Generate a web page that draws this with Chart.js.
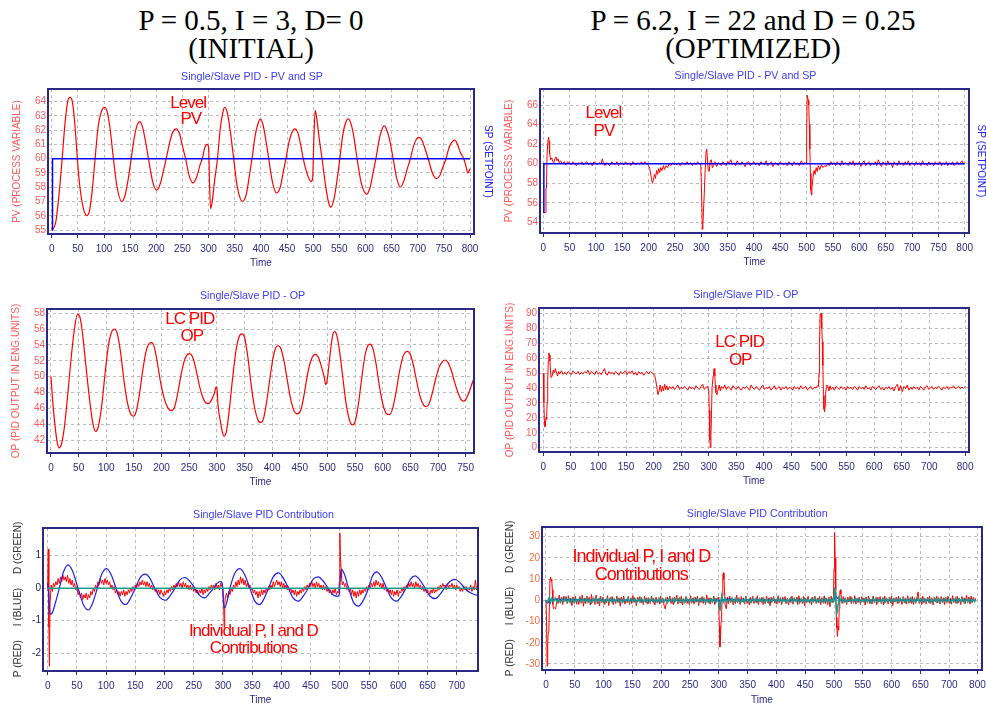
<!DOCTYPE html>
<html>
<head>
<meta charset="utf-8">
<script src="https://cdn.jsdelivr.net/npm/chart.js@4"></script>
<style>
  html, body { margin: 0; padding: 0; background: #fff; overflow: hidden; }
  body { width: 986px; height: 705px; position: relative; }
  .head { position: absolute; top: 6px; width: 500px; text-align: center; color: #000;
          font-family: "Liberation Serif", "Times New Roman", serif; font-size: 29px; line-height: 28px; }
  canvas { position: absolute; }
</style>
</head>
<body>
<div class="head" style="left:1px">P = 0.5, I = 3, D= 0<br>(INITIAL)</div>
<div class="head" style="left:503px">P = 6.2, I = 22 and D = 0.25<br>(OPTIMIZED)</div>

<canvas id="pvInitChart" width="494" height="206" style="left:0;top:62px"></canvas>
<canvas id="pvOptChart" width="491" height="205" style="left:495px;top:62px"></canvas>
<canvas id="opInitChart" width="494" height="205" style="left:0;top:282px"></canvas>
<canvas id="opOptChart" width="491" height="204" style="left:495px;top:282px"></canvas>
<canvas id="contInitChart" width="494" height="205" style="left:0;top:500px"></canvas>
<canvas id="contOptChart" width="491" height="205" style="left:495px;top:500px"></canvas>

<script>
// ---- tick values ----
const time800 = [0,50,100,150,200,250,300,350,400,450,500,550,600,650,700,750,800];
const time750 = [0,50,100,150,200,250,300,350,400,450,500,550,600,650,700,750];
const time700 = [0,50,100,150,200,250,300,350,400,450,500,550,600,650,700];
// the optimized OP / contribution plots label their last tick "800"
const opOptTime = [0,50,100,150,200,250,300,350,400,450,500,550,600,650,700,765];
const contOptTime = [0,50,100,150,200,250,300,350,400,450,500,550,600,650,700,749];
const lastIs800 = ['0','50','100','150','200','250','300','350','400','450','500','550','600','650','700','800'];

const pvInitTicks = [55,56,57,58,59,60,61,62,63,64];
const pvOptTicks = [54,56,58,60,62,64,66];
const opInitTicks = [42,44,46,48,50,52,54,56,58];
const opOptTicks = [0,10,20,30,40,50,60,70,80,90];
const contInitTicks = [-2,-1,0,1];
const contOptTicks = [-30,-20,-10,0,10,20,30];

// ---- series: [time, value] ----
const spInit = [[0,55],[1.5,55],[1.5,60],[800,60]];
const pvInit = [[0,55.0],[3,55.1],[8,55.6],[14,57.5],[20,60.0],[25,62.3],[30,63.9],[34,64.3],[38,64.2],[42,63.3],[46,61.6],[49,60.0],[54,58.0],[60,56.6],[67,56.0],[72,56.3],[77,57.6],[83,60.0],[88,62.0],[94,63.2],[101,63.6],[106,63.3],[112,62.0],[118,60.0],[125,58.0],[134,57.0],[140,57.4],[146,58.5],[152,60.0],[158,61.5],[163,62.3],[168,62.6],[173,62.3],[179,61.3],[185,60.0],[193,58.4],[201,57.8],[208,58.3],[214,59.2],[219,60.0],[226,61.2],[232,61.9],[238,62.1],[244,61.8],[250,60.9],[256,60.0],[263,58.8],[270,58.3],[277,58.7],[284,59.6],[288,60.0],[293,60.8],[297,61.0],[300,60.8],[302,58.0],[304,56.5],[307,57.0],[312,58.6],[317,60.0],[322,62.0],[327,63.2],[331,63.6],[336,63.2],[342,61.8],[348,60.0],[355,58.0],[365,57.0],[372,57.5],[378,58.8],[383,60.0],[389,61.6],[394,62.4],[399,62.8],[404,62.4],[410,61.2],[415,60.0],[422,58.4],[430,57.6],[437,58.0],[443,59.1],[448,60.0],[454,61.2],[460,61.9],[465,62.1],[470,61.9],[476,61.0],[481,60.0],[488,59.0],[496,58.4],[499,58.6],[501,61.0],[504,63.4],[507,62.8],[512,61.3],[517,60.0],[523,58.3],[529,57.0],[534,56.6],[540,57.2],[546,58.6],[551,60.0],[556,61.5],[561,62.4],[567,62.8],[572,62.5],[578,61.5],[584,60.0],[592,58.3],[602,57.5],[609,58.0],[615,59.1],[620,60.0],[626,61.3],[631,62.0],[636,62.3],[641,62.0],[647,61.2],[653,60.0],[660,58.6],[667,58.0],[673,58.4],[680,59.3],[686,60.0],[692,60.9],[698,61.4],[703,61.5],[708,61.3],[714,60.7],[720,60.0],[728,59.0],[736,58.6],[742,58.8],[748,59.4],[754,60.0],[760,60.8],[766,61.2],[771,61.3],[776,61.0],[782,60.4],[788,60.0],[792,59.5],[796,59.0],[800,59.3]];

const spOpt = [[0,55],[1,55],[1,60],[800,60]];
const pvOpt = [[0,55.0],[2,55.0],[4,55.0],[5,57.5],[6,57.5],[7,60.8],[9,62.5],[10,62.7],[11,62.3],[12,61.0],[14,60.4],[16,60.6],[18,60.2],[20,60.1],[22,60.5],[24,60.7],[26,60.3],[28,60.5],[30,60.1],[33,60.3],[36,60.0],[40,60.2],[43,59.9],[46,60.2],[50,60.1],[53,59.9],[56,60.2],[60,60.0],[63,59.8],[66,60.1],[70,60.0],[73,60.2],[76,59.9],[80,60.1],[83,60.2],[86,59.9],[90,60.1],[93,59.8],[96,60.2],[100,60.0],[103,59.9],[106,60.1],[110,60.0],[112,60.5],[114,60.1],[117,59.8],[120,60.1],[123,60.0],[126,59.8],[130,60.2],[133,60.0],[136,59.9],[140,60.2],[143,59.8],[146,60.1],[150,60.0],[153,59.9],[156,60.2],[160,59.9],[163,60.1],[166,59.8],[170,60.2],[173,60.0],[176,59.9],[180,60.1],[183,59.9],[186,60.2],[190,59.9],[193,60.2],[196,60.0],[199,59.9],[202,59.5],[205,58.6],[207,58.0],[209,58.3],[211,58.9],[213,58.5],[215,59.3],[217,58.9],[219,59.5],[221,59.1],[223,59.6],[225,59.3],[228,59.8],[230,59.4],[233,59.8],[236,59.6],[239,60.0],[242,59.8],[245,60.1],[248,59.9],[251,60.0],[254,59.9],[257,60.1],[260,59.8],[263,60.1],[266,60.0],[270,59.9],[273,60.2],[276,59.9],[280,60.1],[283,59.8],[286,60.1],[290,59.9],[293,60.2],[296,60.0],[299,59.9],[300,58.0],[302,53.3],[303,53.8],[304,55.0],[306,57.5],[307,59.0],[309,61.3],[310,61.5],[311,61.0],[313,59.4],[315,59.2],[317,60.3],[319,60.4],[321,59.6],[323,59.8],[326,60.2],[329,59.7],[332,60.1],[335,60.0],[338,59.8],[341,60.2],[344,60.0],[347,59.8],[350,60.2],[353,60.1],[356,60.4],[359,59.9],[362,60.1],[365,59.8],[368,60.3],[371,60.0],[374,59.9],[377,60.2],[380,60.0],[383,59.7],[386,60.1],[390,60.2],[393,59.8],[396,60.0],[400,60.2],[403,59.9],[406,60.1],[410,59.8],[413,60.2],[416,60.0],[420,59.9],[423,60.3],[426,59.8],[430,60.0],[433,60.2],[436,59.7],[440,60.1],[443,60.0],[446,59.8],[450,60.2],[453,60.0],[456,59.9],[460,60.1],[463,59.8],[466,60.2],[470,60.0],[473,59.8],[476,60.2],[480,59.9],[483,60.1],[486,59.8],[490,60.3],[493,59.9],[496,60.1],[499,60.0],[500,63.0],[501,67.0],[503,66.5],[504,66.0],[505,64.0],[506,61.5],[507,59.0],[508,57.3],[509,56.8],[510,57.5],[512,58.6],[514,59.3],[516,58.9],[518,59.6],[520,59.2],[522,59.8],[525,59.4],[528,59.9],[531,59.6],[534,59.8],[537,59.7],[540,60.0],[543,59.8],[546,60.2],[549,59.9],[552,60.1],[555,59.8],[558,60.2],[561,60.0],[564,59.8],[567,60.3],[570,59.9],[573,60.1],[576,60.0],[579,59.8],[582,60.2],[585,59.9],[588,60.3],[591,59.8],[594,60.1],[597,59.9],[600,60.2],[603,59.7],[606,60.1],[609,60.3],[612,59.8],[615,60.0],[618,60.2],[621,59.8],[624,60.1],[627,59.9],[630,60.2],[633,59.8],[636,60.4],[639,60.0],[642,59.7],[645,60.2],[648,60.0],[651,59.8],[654,60.3],[657,59.9],[660,60.1],[663,59.6],[666,60.2],[669,60.0],[672,59.8],[675,60.3],[678,59.9],[681,60.1],[684,59.8],[687,60.2],[690,59.9],[693,60.3],[696,59.8],[699,60.1],[702,60.0],[705,59.8],[708,60.2],[711,59.9],[714,60.1],[717,59.8],[720,60.3],[723,59.9],[726,60.0],[729,59.8],[732,60.2],[735,59.9],[738,60.1],[741,59.8],[744,60.2],[747,60.0],[750,59.9],[753,60.2],[756,59.8],[759,60.1],[762,59.9],[765,60.2],[768,59.8],[771,60.1],[774,59.9],[777,60.2],[780,59.8],[783,60.0],[786,60.2],[789,59.9],[792,60.1],[795,60.3],[798,59.9],[800,60.1]];

const opInit = [[0,50.0],[3,47.0],[7,44.0],[11,41.8],[15,41.0],[19,41.5],[24,43.5],[30,47.5],[36,52.0],[42,55.8],[48,57.9],[52,57.6],[57,55.5],[63,51.5],[70,47.0],[76,44.0],[81,43.1],[86,43.8],[92,46.5],[98,50.5],[104,54.0],[110,55.7],[115,56.0],[120,55.4],[126,53.0],[132,49.5],[138,46.8],[144,45.3],[149,45.0],[154,45.6],[160,47.8],[166,50.8],[172,53.2],[178,54.2],[182,54.3],[187,53.7],[193,51.5],[199,49.0],[205,47.2],[212,46.0],[218,45.7],[224,46.3],[230,48.2],[236,50.5],[242,52.2],[247,52.8],[251,52.9],[256,52.5],[262,51.0],[268,49.0],[274,47.5],[280,46.7],[285,46.6],[290,47.0],[295,47.8],[299,48.7],[300,48.6],[302,46.5],[306,44.5],[310,43.0],[313,42.5],[317,43.0],[322,45.5],[328,49.5],[334,53.0],[340,55.0],[345,55.4],[350,55.0],[356,52.5],[362,49.0],[368,46.2],[374,44.6],[379,44.2],[384,44.6],[390,46.8],[396,49.8],[402,52.5],[407,53.7],[411,53.9],[416,53.5],[422,51.8],[428,49.3],[434,47.0],[440,45.6],[446,45.3],[452,45.8],[458,47.8],[464,50.3],[470,52.0],[475,52.7],[479,52.8],[484,52.4],[489,51.3],[494,50.0],[497,49.0],[499,49.3],[502,51.0],[506,53.5],[510,55.4],[513,55.7],[517,55.2],[522,53.2],[528,49.8],[534,46.5],[540,44.5],[545,43.9],[550,44.3],[556,46.5],[562,49.8],[568,52.7],[573,53.9],[577,54.1],[582,53.6],[588,51.6],[594,48.8],[600,46.6],[606,45.4],[612,45.2],[618,46.0],[624,48.0],[630,50.5],[636,52.4],[641,53.1],[645,53.2],[650,52.8],[656,51.3],[662,49.2],[668,47.4],[674,46.4],[679,46.2],[684,46.6],[690,48.0],[696,49.8],[702,51.2],[708,51.9],[713,52.1],[718,51.8],[724,50.8],[730,49.3],[736,48.0],[741,47.2],[746,46.9],[751,47.2],[756,48.0],[761,49.0],[765,49.8]];

const opOpt = [[0,50],[1,30],[2,18],[3,14],[4,17],[5,20],[6,19],[7,30],[8,45],[9,58],[10,63.5],[11,62],[12,58],[13,52],[14,47],[16,48],[18,52],[20,50],[22,53],[24,50],[26,48],[28,51],[30,49.5],[33,51.5],[36,49],[39,50.5],[42,49],[45,51],[48,50],[51,49],[54,51.5],[57,50],[60,49.5],[63,51],[66,49],[69,50.5],[72,49.5],[75,51],[78,50],[81,52],[84,49],[87,51],[90,50],[93,49],[96,51.5],[99,49.5],[102,50.5],[105,49],[108,51],[111,53],[113,50],[116,48.5],[119,51],[122,49.5],[125,50.5],[128,49],[131,51],[134,50],[137,48.5],[140,51],[143,49.5],[146,50.5],[149,51.5],[152,49],[155,51],[158,50],[161,51.5],[164,49],[167,50.5],[170,48.5],[173,51],[176,49.5],[179,50.5],[182,48.5],[185,50],[188,51],[191,49.5],[194,51],[197,50],[200,49.5],[202,48.5],[204,45],[206,40],[208,35.5],[210,38],[212,42],[214,37.5],[216,41],[218,38],[220,42.5],[222,39],[224,41.5],[226,38.5],[229,41],[232,39.5],[235,41],[238,39],[241,40.5],[244,42],[247,39],[250,40.5],[253,39.5],[256,41],[259,40],[262,38.5],[265,41],[268,39.5],[271,40.5],[274,39],[277,41.5],[280,40],[283,39],[286,41],[289,42.5],[292,39],[295,40.5],[298,41],[300,38],[301,25],[302,5],[303,0],[304,8],[305,22],[306,40],[308,48],[309,52],[310,53],[311,48],[312,42],[313,37],[315,35.5],[317,39],[319,42],[321,38],[323,41],[326,39.5],[329,42],[332,39],[335,41],[338,40],[341,38.5],[344,41.5],[347,40],[350,39],[353,41],[356,40],[359,38.5],[362,40.5],[365,39.5],[368,41],[371,40],[374,38.5],[377,42],[380,40],[383,39],[386,41],[389,40],[392,38.5],[395,40.5],[398,42],[401,39],[404,40.5],[407,39.5],[410,41],[413,38.5],[416,40],[419,41.5],[422,39],[425,40],[428,41],[431,38.5],[434,40.5],[437,39.5],[440,41],[443,39],[446,40.5],[449,40],[452,38.5],[455,41],[458,39.5],[461,40.5],[464,39],[467,41.5],[470,39.5],[473,40],[476,41],[479,38.5],[482,40],[485,41],[488,39],[491,40.5],[494,40],[497,41.5],[499,41],[500,50],[501,70],[502,88],[503,90],[504,90],[505,80],[506,71],[507,55],[508,35],[509,26],[510,24],[511,28],[512,36],[513,40],[514,42],[516,41],[518,38],[520,41.5],[522,39],[525,40.5],[528,38.5],[531,41],[534,40],[537,39],[540,41],[543,39.5],[546,40.5],[549,38.5],[552,41],[555,39.5],[558,40.5],[561,39],[564,41],[567,40],[570,38.5],[573,41],[576,39.5],[579,40.5],[582,39],[585,41.5],[588,39.5],[591,40],[594,38.5],[597,41],[600,40],[603,39],[606,40.5],[609,41.5],[612,39],[615,40],[618,38.5],[621,40.5],[624,39.5],[627,41],[630,39],[633,40.5],[636,38],[639,41],[642,42.5],[645,38],[648,41.5],[651,37.5],[654,41],[657,39.5],[660,42],[663,38.5],[666,40.5],[669,39],[672,41],[675,39.5],[678,40.5],[681,38.5],[684,41],[687,40],[690,38.5],[693,40.5],[696,41.5],[699,39],[702,40],[705,41],[708,39],[711,40.5],[714,39.5],[717,41],[720,40],[723,38.5],[726,40.5],[729,39.5],[732,41],[735,39],[738,40.5],[741,40],[744,41.5],[747,39.5],[750,40],[753,41],[756,39.5],[759,40.5],[762,40],[765,41]];

const pInit = [[0,0.0],[1,1.2],[2,-1.2],[3,-2.4],[4,-0.5],[6,0.1],[8,-0.1],[10,0.15],[12,0.05],[14,0.2],[16,0.1],[18,0.3],[20,0.15],[22,0.35],[24,0.2],[26,0.4],[28,0.25],[30,0.35],[32,0.2],[34,0.4],[36,0.15],[38,0.3],[40,0.1],[42,0.25],[44,0.05],[46,0.15],[48,-0.05],[50,0.05],[52,-0.2],[54,-0.1],[56,-0.3],[58,-0.15],[60,-0.35],[62,-0.2],[64,-0.3],[66,-0.15],[68,-0.35],[70,-0.2],[72,-0.3],[74,-0.1],[76,-0.2],[78,0.0],[80,-0.1],[82,0.1],[84,0.0],[86,0.2],[88,0.1],[90,0.3],[92,0.15],[94,0.25],[96,0.1],[98,0.3],[100,0.15],[102,0.25],[104,0.1],[106,0.2],[108,0.0],[110,0.1],[112,-0.05],[114,0.05],[116,-0.15],[118,-0.05],[120,-0.2],[122,-0.1],[124,-0.25],[126,-0.1],[128,-0.2],[130,-0.05],[132,-0.25],[134,-0.1],[136,-0.2],[138,-0.05],[140,-0.15],[142,0.0],[144,-0.1],[146,0.05],[148,-0.05],[150,0.1],[152,0.0],[154,0.15],[156,0.05],[158,0.2],[160,0.1],[162,0.25],[164,0.1],[166,0.2],[168,0.05],[170,0.2],[172,0.05],[174,0.15],[176,0.0],[178,0.1],[180,-0.05],[182,0.05],[184,-0.1],[186,0.0],[188,-0.15],[190,-0.05],[192,-0.2],[194,-0.05],[196,-0.15],[198,-0.25],[200,-0.1],[202,-0.2],[204,-0.05],[206,-0.15],[208,0.0],[210,-0.1],[212,0.05],[214,-0.05],[216,0.1],[218,0.0],[220,0.15],[222,0.05],[224,0.2],[226,0.05],[228,0.15],[230,0.0],[232,0.2],[234,0.05],[236,0.15],[238,0.0],[240,0.1],[242,-0.05],[244,0.1],[246,-0.05],[248,0.05],[250,-0.1],[252,0.0],[254,-0.15],[256,-0.05],[258,-0.2],[260,-0.05],[262,-0.15],[264,0.0],[266,-0.2],[268,-0.05],[270,-0.15],[272,0.0],[274,-0.1],[276,0.05],[278,-0.05],[280,0.1],[282,0.0],[284,0.1],[286,-0.05],[288,0.15],[290,0.0],[292,0.1],[294,-0.05],[296,0.15],[298,0.05],[300,0.0],[301,-0.4],[302,-1.2],[303,-0.5],[304,-0.3],[306,-0.15],[308,-0.3],[310,-0.1],[312,-0.2],[314,0.0],[316,-0.1],[318,0.1],[320,0.0],[322,0.2],[324,0.05],[326,0.25],[328,0.1],[330,0.35],[332,0.15],[334,0.3],[336,0.1],[338,0.25],[340,0.05],[342,0.15],[344,0.0],[346,0.1],[348,-0.05],[350,0.0],[352,-0.15],[354,-0.05],[356,-0.2],[358,-0.1],[360,-0.3],[362,-0.1],[364,-0.25],[366,-0.05],[368,-0.2],[370,-0.05],[372,-0.15],[374,0.0],[376,-0.1],[378,0.05],[380,-0.05],[382,0.1],[384,0.0],[386,0.2],[388,0.05],[390,0.15],[392,0.25],[394,0.1],[396,0.2],[398,0.05],[400,0.2],[402,0.0],[404,0.15],[406,0.0],[408,0.1],[410,-0.05],[412,0.05],[414,-0.1],[416,0.0],[418,-0.15],[420,-0.05],[422,-0.2],[424,-0.05],[426,-0.25],[428,-0.1],[430,-0.2],[432,-0.05],[434,-0.15],[436,0.0],[438,-0.1],[440,0.05],[442,-0.05],[444,0.1],[446,0.0],[448,0.15],[450,0.05],[452,0.2],[454,0.05],[456,0.15],[458,0.0],[460,0.2],[462,0.05],[464,0.15],[466,0.0],[468,0.1],[470,-0.05],[472,0.1],[474,-0.05],[476,0.05],[478,-0.1],[480,0.0],[482,-0.15],[484,-0.05],[486,-0.2],[488,-0.05],[490,-0.15],[492,0.0],[494,-0.2],[496,-0.1],[498,-0.15],[499,0.2],[500,1.7],[501,1.0],[502,0.6],[503,0.3],[504,0.1],[506,0.2],[508,0.05],[510,0.15],[512,-0.05],[514,0.05],[516,-0.1],[518,0.0],[520,-0.2],[522,-0.05],[524,-0.25],[526,-0.1],[528,-0.3],[530,-0.1],[532,-0.25],[534,-0.05],[536,-0.2],[538,-0.05],[540,-0.15],[542,0.0],[544,-0.1],[546,0.05],[548,-0.05],[550,0.1],[552,0.0],[554,0.15],[556,0.05],[558,0.2],[560,0.05],[562,0.25],[564,0.1],[566,0.2],[568,0.05],[570,0.15],[572,0.0],[574,0.15],[576,-0.05],[578,0.05],[580,-0.1],[582,0.0],[584,-0.15],[586,-0.05],[588,-0.2],[590,-0.05],[592,-0.25],[594,-0.1],[596,-0.2],[598,-0.05],[600,-0.25],[602,-0.1],[604,-0.15],[606,0.0],[608,-0.1],[610,0.05],[612,-0.05],[614,0.1],[616,0.0],[618,0.15],[620,0.05],[622,0.2],[624,0.05],[626,0.15],[628,0.0],[630,0.2],[632,0.05],[634,0.15],[636,0.0],[638,0.1],[640,-0.05],[642,0.05],[644,-0.1],[646,0.0],[648,-0.15],[650,-0.05],[652,-0.1],[654,-0.2],[656,-0.05],[658,-0.15],[660,0.0],[662,-0.15],[664,-0.05],[666,-0.1],[668,0.05],[670,-0.05],[672,0.1],[674,0.0],[676,0.15],[678,0.05],[680,0.1],[682,-0.05],[684,0.15],[686,0.0],[688,0.1],[690,0.05],[692,0.15],[694,0.0],[696,0.1],[698,-0.05],[700,0.1],[702,0.0],[704,0.05],[706,-0.1],[708,0.0],[710,-0.1],[712,0.05],[714,-0.05],[716,0.05],[718,-0.1],[720,0.0],[722,-0.05],[724,0.1],[726,-0.1],[728,0.05],[730,-0.05],[732,0.25],[734,-0.05],[736,0.1]];
const iInit = [[0,0.15],[2,-0.3],[4,-0.8],[8,-0.75],[14,-0.4],[20,0.0],[27,0.5],[35,0.72],[42,0.55],[52,0.0],[61,-0.5],[70,-0.67],[77,-0.45],[85,0.0],[93,0.45],[101,0.6],[109,0.4],[117,0.0],[125,-0.38],[134,-0.5],[142,-0.3],[150,0.0],[158,0.32],[167,0.43],[175,0.3],[183,0.0],[192,-0.28],[202,-0.37],[210,-0.22],[218,0.0],[226,0.25],[235,0.33],[243,0.22],[252,0.0],[260,-0.22],[269,-0.3],[277,-0.15],[284,0.0],[290,0.15],[296,0.2],[299,0.1],[301,-0.5],[303,-0.6],[307,-0.4],[312,0.0],[320,0.45],[329,0.6],[337,0.42],[346,0.0],[354,-0.38],[363,-0.5],[370,-0.33],[378,0.0],[386,0.35],[395,0.47],[403,0.32],[412,0.0],[420,-0.3],[429,-0.4],[437,-0.25],[446,0.0],[454,0.27],[463,0.35],[471,0.23],[480,0.0],[488,-0.2],[496,-0.25],[499,-0.2],[501,0.4],[503,0.57],[508,0.42],[515,0.0],[523,-0.42],[532,-0.55],[540,-0.38],[549,0.0],[556,0.38],[563,0.5],[571,0.35],[580,0.0],[588,-0.3],[597,-0.4],[605,-0.26],[613,0.0],[621,0.28],[629,0.38],[637,0.25],[646,0.0],[654,-0.24],[663,-0.32],[671,-0.2],[679,0.0],[688,0.2],[697,0.27],[705,0.18],[714,0.0],[724,-0.15],[735,-0.22]];
const dInit = [[0,0],[736,0]];

const pOpt = [[0,0],[1,-10],[2,-31],[3,-20],[4,-15],[5,-14],[6,-2],[7,10],[8,11],[9,9],[10,10],[11,5],[12,-2],[13,-4],[15,-3.5],[17,-4],[19,1],[21,-1.5],[23,2.5],[25,-1],[27,1.5],[29,-2],[31,2],[33,-0.5],[35,1.8],[37,-1.5],[39,2.2],[41,-1],[43,1],[45,-2.5],[47,1.5],[49,-0.5],[51,2],[53,-1.8],[55,0.5],[57,-2],[59,1.8],[61,-1],[63,2.5],[65,-2.8],[67,1],[69,-1.5],[71,2],[73,-0.8],[75,1.5],[77,-2.2],[79,2.8],[81,-1],[83,1.2],[85,-2],[87,2.5],[89,-1.5],[91,0.8],[93,-2.5],[95,2],[97,-1],[99,1.5],[101,-2],[103,0.5],[105,-1.2],[107,2.2],[109,-2.5],[111,1],[113,-0.5],[115,1.8],[117,-2],[119,0.8],[121,-1.5],[123,2],[125,-1],[127,1.2],[129,-2.8],[131,1.5],[133,-0.5],[135,2],[137,-1.8],[139,0.5],[141,-1],[143,1.8],[145,-2],[147,1],[149,-1.5],[151,2.2],[153,-1],[155,0.8],[157,-2.5],[159,1.5],[161,-0.5],[163,1.8],[165,-1.2],[167,0.5],[169,-2],[171,2],[173,-1],[175,1.2],[177,-1.8],[179,0.8],[181,-1.5],[183,2],[185,-0.8],[187,1],[189,-2.2],[191,1.5],[193,-1],[195,0.5],[197,-1.8],[199,2],[201,-1.2],[203,1],[205,-2.5],[207,-4],[209,-1],[211,1.5],[213,-0.8],[215,2],[217,-1.5],[219,0.8],[221,-2],[223,1.5],[225,-0.5],[227,2.5],[229,-1.8],[231,1],[233,-1.2],[235,2],[237,-2.2],[239,0.8],[241,-1],[243,1.8],[245,-1.5],[247,0.5],[249,-2],[251,2.2],[253,-1],[255,1],[257,-1.8],[259,1.5],[261,-0.8],[263,2],[265,-2.5],[267,1],[269,-1],[271,1.8],[273,-1.5],[275,0.8],[277,-2],[279,2.5],[281,-1],[283,1.2],[285,-1.8],[287,1],[289,-1.2],[291,2],[293,-2],[295,1],[297,-0.5],[299,1.5],[300,-3],[301,-12],[302,-22],[303,-18],[304,-10],[305,-5],[306,2],[307,12],[308,13],[309,10],[310,4],[311,-2],[313,-4],[315,1.5],[317,-1.5],[319,2],[321,-1],[323,1.2],[325,-2.2],[327,0.8],[329,-1.5],[331,2.5],[333,-1],[335,1],[337,-2],[339,1.8],[341,-0.8],[343,1.2],[345,-1.8],[347,2],[349,-1.5],[351,0.5],[353,-2.2],[355,1.5],[357,-1],[359,2],[361,-1.5],[363,0.8],[365,-1.2],[367,2.2],[369,-2],[371,1],[373,-0.8],[375,1.5],[377,-2],[379,0.8],[381,-1.5],[383,2],[385,-1],[387,1.2],[389,-2.5],[391,1.5],[393,-0.8],[395,2],[397,-1.2],[399,0.5],[401,-1.8],[403,2.2],[405,-1],[407,1],[409,-2],[411,1.5],[413,-0.5],[415,1.8],[417,-1.5],[419,1],[421,-2.2],[423,0.8],[425,-1],[427,2],[429,-1.8],[431,1.2],[433,-0.8],[435,1.5],[437,-2],[439,2.2],[441,-1],[443,0.8],[445,-1.5],[447,1.8],[449,-2.5],[451,1],[453,-1],[455,2],[457,-1.2],[459,0.5],[461,-2],[463,1.5],[465,-0.8],[467,2],[469,-1.5],[471,1],[473,-1.2],[475,1.8],[477,-2],[479,0.8],[481,-1],[483,2.2],[485,-1.5],[487,1],[489,-2],[491,1.5],[493,-3],[495,2],[497,-1],[499,1.5],[500,15],[501,32],[502,20],[503,5],[504,-8],[505,-13],[506,-17],[507,-12],[508,-14],[509,-4],[510,4],[511,5],[512,3],[514,-1.5],[516,1.8],[518,-1],[520,1.2],[522,-2],[524,1.5],[526,-0.8],[528,2],[530,-1.5],[532,0.8],[534,-1.2],[536,2.2],[538,-1.8],[540,1],[542,-1],[544,1.5],[546,-2],[548,1.8],[550,-0.5],[552,1.2],[554,-2.2],[556,1.5],[558,-1],[560,2],[562,-1.5],[564,0.5],[566,-1.8],[568,2],[570,-1],[572,1.2],[574,-2],[576,1.5],[578,-0.8],[580,1.8],[582,-1.5],[584,1],[586,-2.2],[588,2],[590,-1],[592,0.8],[594,-1.8],[596,1.5],[598,-1.2],[600,2],[602,-2.5],[604,1],[606,-0.8],[608,1.5],[610,-1.5],[612,2],[614,-1],[616,0.8],[618,-2],[620,1.8],[622,-1.2],[624,1],[626,-1.8],[628,2.2],[630,-1],[632,1],[634,-1.5],[636,1.8],[638,-2],[640,1.2],[642,-0.8],[644,1.5],[646,4],[648,-1.5],[650,1],[652,-2],[654,2],[656,-1.2],[658,0.8],[660,-1.8],[662,1.5],[664,-1],[666,2],[668,-1.5],[670,1],[672,-2.2],[674,1.5],[676,-0.8],[678,2],[680,-1.2],[682,1],[684,-1.8],[686,1.8],[688,-1],[690,1.2],[692,-2],[694,1.5],[696,-0.5],[698,2],[700,-1.5],[702,1],[704,-1.8],[706,2.2],[708,-1],[710,0.8],[712,-1.5],[714,2],[716,-1.2],[718,1],[720,-2],[722,1.8],[724,-0.8],[726,1.2],[728,-1.5],[730,2.5],[732,-1],[734,1.5],[736,-1.8],[738,2],[740,-1],[742,1.5],[744,-0.5],[746,1]];
const iOpt = [[0,0],[2,-1.2],[4,-1.0],[6,-0.2],[10,0.4],[20,0.5],[40,0.3],[80,0.1],[150,0],[200,-0.2],[250,0],[300,0.1],[302,-0.6],[306,0.3],[315,0.6],[330,0.2],[400,0],[499,0],[502,1.5],[504,1.8],[508,0.5],[515,-0.3],[530,0],[746,0]];
const dOpt = [[0,0],[2,-1],[4,0.5],[6,1.5],[8,-1],[10,0.8],[13,-0.5],[16,1],[19,-0.8],[22,0.6],[25,-1],[28,0.8],[31,-0.5],[34,1.2],[37,-1],[40,0.5],[43,-0.8],[46,1],[49,-1.2],[52,0.6],[55,-0.5],[58,1],[61,-1],[64,0.8],[67,-0.6],[70,1.1],[73,-0.9],[76,0.5],[79,-1.2],[82,1],[85,-0.5],[88,0.8],[91,-1],[94,1.2],[97,-0.6],[100,0.5],[103,-1],[106,0.9],[109,-0.7],[112,1],[115,-1.1],[118,0.6],[121,-0.5],[124,1],[127,-0.9],[130,0.7],[133,-1],[136,0.5],[139,-0.6],[142,1.1],[145,-1],[148,0.8],[151,-0.5],[154,0.9],[157,-1.1],[160,0.6],[163,-0.7],[166,1],[169,-0.8],[172,0.5],[175,-1],[178,0.9],[181,-0.6],[184,1.1],[187,-0.9],[190,0.5],[193,-0.8],[196,1],[199,-1],[202,0.7],[205,-0.6],[208,1],[211,-1.1],[214,0.6],[217,-0.5],[220,0.9],[223,-1],[226,0.8],[229,-0.6],[232,1],[235,-0.9],[238,0.5],[241,-1],[244,1.1],[247,-0.7],[250,0.6],[253,-1],[256,0.9],[259,-0.5],[262,1],[265,-1.1],[268,0.7],[271,-0.6],[274,1],[277,-0.9],[280,0.5],[283,-1],[286,0.8],[289,-0.7],[292,1.1],[295,-1],[298,0.6],[300,-1],[301,-3],[302,-5],[303,-2],[304,1],[305,2],[306,1],[308,-0.8],[311,0.9],[314,-1],[317,0.6],[320,-0.5],[323,1],[326,-1],[329,0.8],[332,-0.6],[335,1],[338,-0.9],[341,0.5],[344,-1],[347,1.1],[350,-0.7],[353,0.6],[356,-1],[359,0.9],[362,-0.5],[365,1],[368,-1.1],[371,0.7],[374,-0.6],[377,1],[380,-0.9],[383,0.5],[386,-1],[389,0.8],[392,-0.7],[395,1.1],[398,-1],[401,0.6],[404,-0.5],[407,1],[410,-0.9],[413,0.7],[416,-1],[419,0.5],[422,-0.6],[425,1.1],[428,-1],[431,0.8],[434,-0.5],[437,0.9],[440,-1.1],[443,0.6],[446,-0.7],[449,1],[452,-0.8],[455,0.5],[458,-1],[461,0.9],[464,-0.6],[467,1.1],[470,-0.9],[473,0.5],[476,-0.8],[479,1],[482,-1],[485,0.7],[488,-0.6],[491,1],[494,-1.1],[497,0.6],[499,-0.5],[500,2],[501,6],[502,4],[503,0],[504,-3],[505,-6],[506,-5],[507,-2],[508,1],[510,-0.5],[513,1],[516,-0.9],[519,0.7],[522,-1],[525,0.5],[528,-0.6],[531,1.1],[534,-1],[537,0.8],[540,-0.5],[543,0.9],[546,-1.1],[549,0.6],[552,-0.7],[555,1],[558,-0.8],[561,0.5],[564,-1],[567,0.9],[570,-0.6],[573,1.1],[576,-0.9],[579,0.5],[582,-0.8],[585,1],[588,-1],[591,0.7],[594,-0.6],[597,1],[600,-1.1],[603,0.6],[606,-0.5],[609,0.9],[612,-1],[615,0.8],[618,-0.6],[621,1],[624,-0.9],[627,0.5],[630,-1],[633,1.1],[636,-0.7],[639,0.6],[642,-1],[645,0.9],[648,-0.5],[651,1],[654,-1.1],[657,0.7],[660,-0.6],[663,1],[666,-0.9],[669,0.5],[672,-1],[675,0.8],[678,-0.7],[681,1.1],[684,-1],[687,0.6],[690,-0.5],[693,1],[696,-0.9],[699,0.7],[702,-1],[705,0.5],[708,-0.6],[711,1.1],[714,-1],[717,0.8],[720,-0.5],[723,0.9],[726,-1.1],[729,0.6],[732,-0.7],[735,1],[738,-0.8],[741,0.5],[744,-0.6],[746,0.3]];

// ---- drawing ----
const FONT = '"Liberation Sans", Arial, sans-serif';
const NAVY = '#2a2a86';
const GRID = '#bcbcbc';
const TITLE_BLUE = '#3c3cf4';
const PV_RED = '#ff5a5a';

Chart.defaults.font.family = FONT;
Chart.defaults.font.size = 10;

const xy = pairs => pairs.map(([x, y]) => ({ x, y }));

// frame, panel title and the red notes inside the plot
const panelPlugin = {
  id: 'panel',
  afterDraw(chart, args, opts) {
    const { ctx, chartArea: a, scales } = chart;
    ctx.save();
    ctx.strokeStyle = NAVY;
    ctx.lineWidth = 2;
    ctx.strokeRect(a.left, a.top, a.right - a.left, a.bottom - a.top);
    ctx.textAlign = 'center';
    ctx.textBaseline = 'middle';
    ctx.fillStyle = TITLE_BLUE;
    ctx.font = '10.7px ' + FONT;
    ctx.fillText(opts.title, opts.titleAt[0], opts.titleAt[1]);
    ctx.fillStyle = '#ff0000';
    ctx.font = opts.noteSize + 'px ' + FONT;
    ctx.letterSpacing = '-1px';
    opts.notes.forEach(n => {
      ctx.fillText(n.text, scales.x.getPixelForValue(n.at[0]), scales.y.getPixelForValue(n.at[1]));
    });
    ctx.restore();
  }
};

function line(data, color, width, smooth) {
  return {
    data: xy(data), borderColor: color, borderWidth: width, pointRadius: 0, fill: false,
    tension: smooth ? 0.4 : 0, cubicInterpolationMode: smooth ? 'monotone' : 'default'
  };
}

function panel(id, o) {
  const scales = {
    x: {
      type: 'linear', min: o.x[0], max: o.x[1],
      afterBuildTicks: s => { s.ticks = o.xTicks.map(v => ({ value: v })); },
      afterFit: s => { s.height = o.xH; s.paddingLeft = 0; s.paddingRight = 0; },
      ticks: { autoSkip: false, maxRotation: 0, padding: 5, color: NAVY,
               callback: (v, i) => (o.xLabels ? o.xLabels[i] : String(o.xTicks[i])) },
      grid: { color: GRID, tickColor: NAVY, tickLength: 4 },
      border: { display: false, dash: [3, 3] },
      title: { display: true, text: 'Time', color: NAVY, font: { size: 10, lineHeight: 1 }, padding: 0 }
    },
    y: {
      type: 'linear', position: 'left', min: o.y[0], max: o.y[1],
      afterBuildTicks: s => { s.ticks = o.yTicks.map(v => ({ value: v })); },
      afterFit: s => { s.width = o.yW; s.paddingTop = 0; s.paddingBottom = 0; },
      ticks: { padding: 2, color: o.yColor },
      grid: { color: GRID, drawTicks: false },
      border: { display: false, dash: [3, 3] },
      title: { display: true, text: o.yTitle, color: o.yTitleColor, font: { size: 10, lineHeight: 1 },
               padding: { top: o.yTitlePad, bottom: 0 } }
    }
  };
  if (o.rightTitle) {
    scales.y2 = {
      type: 'linear', position: 'right', min: o.y[0], max: o.y[1],
      afterFit: s => { s.width = o.rW; },
      ticks: { display: false },
      grid: { display: false },
      border: { display: false },
      title: { display: true, text: o.rightTitle, color: '#2020ff', font: { size: 10, lineHeight: 1 },
               padding: { top: o.rTitlePad, bottom: 0 } }
    };
  }
  new Chart(document.getElementById(id), {
    type: 'line',
    data: { datasets: o.datasets },
    options: {
      responsive: false, animation: false, events: [],
      layout: { padding: { top: o.padTop, right: o.rightTitle ? 0 : o.rW, left: 0, bottom: 0 } },
      plugins: {
        legend: { display: false }, tooltip: { enabled: false },
        panel: { title: o.title, titleAt: o.titleAt, notes: o.notes, noteSize: o.noteSize || 17 }
      },
      scales
    },
    plugins: [panelPlugin]
  });
}

panel('pvInitChart', {
  x: [-7.1, 807.6], xTicks: time800, xH: 34,
  y: [54.72, 64.89], yTicks: pvInitTicks, yW: 48, yColor: PV_RED,
  yTitle: 'PV (PROCESS VARIABLE)', yTitleColor: PV_RED, yTitlePad: 12,
  rightTitle: 'SP (SETPOINT)', rW: 20, rTitlePad: 1, padTop: 27,
  title: 'Single/Slave PID - PV and SP', titleAt: [252, 15],
  notes: [{ text: 'Level', at: [261, 63.9] }, { text: 'PV', at: [266, 62.75] }],
  datasets: [line(spInit, '#0000ff', 1.5, false), line(pvInit, '#ff0000', 1.2, true)]
});

panel('pvOptChart', {
  x: [-6.3, 808.2], xTicks: time800, xH: 34,
  y: [52.91, 67.64], yTicks: pvOptTicks, yW: 45, yColor: PV_RED,
  yTitle: 'PV (PROCESS VARIABLE)', yTitleColor: PV_RED, yTitlePad: 9,
  rightTitle: 'SP (SETPOINT)', rW: 17, rTitlePad: 0, padTop: 27,
  title: 'Single/Slave PID - PV and SP', titleAt: [250.5, 14],
  notes: [{ text: 'Level', at: [114, 65.15] }, { text: 'PV', at: [115, 63.27] }],
  datasets: [line(spOpt, '#0000ff', 1.5, false), line(pvOpt, '#ff0000', 1, false)]
});

panel('opInitChart', {
  x: [-7.2, 765.1], xTicks: time750, xH: 34,
  y: [40.36, 58.54], yTicks: opInitTicks, yW: 47, yColor: PV_RED,
  yTitle: 'OP (PID OUTPUT IN ENG.UNITS)', yTitleColor: PV_RED, yTitlePad: 11.7,
  rW: 20, padTop: 27,
  title: 'Single/Slave PID - OP', titleAt: [252.5, 14],
  notes: [{ text: 'LC PID', at: [251, 57.22] }, { text: 'OP', at: [254.5, 55.13] }],
  datasets: [line(opInit, '#ff0000', 1.2, true)]
});

panel('opOptChart', {
  x: [-7.8, 772], xTicks: opOptTime, xLabels: lastIs800, xH: 34,
  y: [-2.88, 93.55], yTicks: opOptTicks, yW: 44, yColor: PV_RED,
  yTitle: 'OP (PID OUTPUT IN ENG.UNITS)', yTitleColor: PV_RED, yTitlePad: 10,
  rW: 17, padTop: 26,
  title: 'Single/Slave PID - OP', titleAt: [250.8, 13],
  notes: [{ text: 'LC PID', at: [356, 70.78] }, { text: 'OP', at: [357, 58.53] }],
  datasets: [line(opOpt, '#ff0000', 1, false)]
});

panel('contInitChart', {
  x: [-8, 736.4], xTicks: time700, xH: 34,
  y: [-2.545, 1.851], yTicks: contInitTicks, yW: 43, yColor: '#1e1e3c',
  yTitle: 'P (RED)     I (BLUE)     D (GREEN)', yTitleColor: '#333', yTitlePad: 13.3,
  rW: 16, padTop: 28,
  title: 'Single/Slave PID Contribution', titleAt: [263.5, 15],
  notes: [{ text: 'Individual P, I and D', at: [352, -1.337] }, { text: 'Contributions', at: [352, -1.847] }],
  datasets: [line(dInit, '#1a9c8c', 1.5, false), line(iInit, '#2020e8', 1.2, true), line(pInit, '#ff0000', 1, false)]
});

panel('contOptChart', {
  x: [-6.9, 756.9], xTicks: contOptTime, xLabels: lastIs800, xH: 35,
  y: [-32.83, 34.57], yTicks: contOptTicks, yW: 47, yColor: '#ff6a3d',
  yTitle: 'P (RED)     I (BLUE)     D (GREEN)', yTitleColor: '#333', yTitlePad: 10,
  rW: 4, padTop: 27,
  title: 'Single/Slave PID Contribution', titleAt: [262.2, 14.3], noteSize: 18,
  notes: [{ text: 'Individual P, I and D', at: [165.5, 20.43] }, { text: 'Contributions', at: [165.5, 11.71] }],
  datasets: [line(dOpt, '#1a9c8c', 1.5, false), line(iOpt, '#2020e8', 1.2, false), line(pOpt, '#ff0000', 1, false)]
});
</script>
</body>
</html>
